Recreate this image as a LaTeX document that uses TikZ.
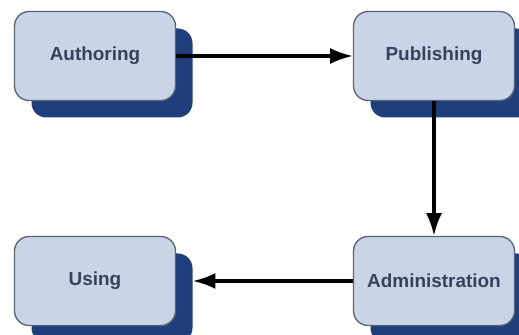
\documentclass[tikz,border=0pt]{standalone}
\usepackage{fontspec}
\setmainfont{Liberation Sans}
\usetikzlibrary{arrows.meta,calc}
\definecolor{boxfill}{HTML}{C9D5E6}
\definecolor{boxline}{HTML}{5A6478}
\definecolor{shadowblue}{HTML}{1E3F7C}
\definecolor{textcol}{HTML}{34435C}
\tikzset{
  stagebox/.style={rectangle, rounded corners=11pt, fill=boxfill, draw=boxline, line width=1pt,
    minimum width=120.75pt, minimum height=66.75pt, inner sep=0pt,
    font=\fontsize{14.2}{17}\selectfont\bfseries, text=textcol},
  shadowbox/.style={rectangle, rounded corners=11pt, fill=shadowblue, draw=none,
    minimum width=120.75pt, minimum height=66.75pt, inner sep=0pt},
  flow/.style={line width=2.3pt, draw=black, -{Latex[length=17pt,width=12pt]}}
}
\begin{document}
\begin{tikzpicture}[x=0.75pt,y=-0.75pt]
\useasboundingbox (0,0) rectangle (519,335);
\fill[white] (0,0) rectangle (519,335);
% shadows
\node[shadowbox] (sauth) at (112,73) {};
\node[shadowbox] (spub) at (451,73) {};
\node[shadowbox] (susing) at (112,298) {};
\node[shadowbox] (sadmin) at (451,298) {};
% boxes
\node[stagebox] (auth) at (95,56) {Authoring};
\node[stagebox] (pub) at (434,56) {Publishing};
\node[stagebox] (using) at (95,281) {Using};
\node[stagebox] (admin) at (434,281) {Administration};
% connectors
\draw[flow] (auth.east) -- (pub.west);
\draw[flow] (pub.south) -- (admin.north);
\draw[flow] (admin.west) -- (admin.west -| susing.east);
\end{tikzpicture}
\end{document}
